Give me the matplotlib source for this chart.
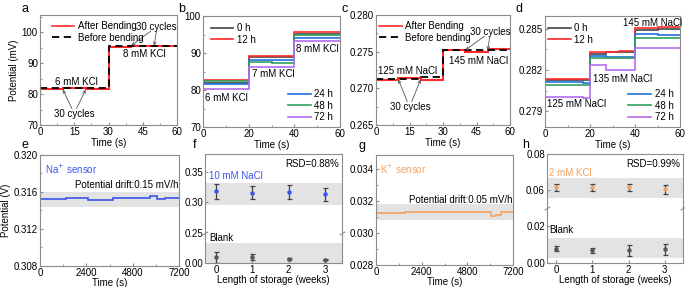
import numpy as np
import matplotlib
matplotlib.use('Agg')
import matplotlib.pyplot as plt
from matplotlib.ticker import AutoMinorLocator

plt.rcParams['font.family'] = ['Liberation Sans', 'DejaVu Sans']
plt.rcParams['font.size'] = 7
plt.rcParams['axes.linewidth'] = 0.8
plt.rcParams['axes.edgecolor'] = '#8c8c8c'
plt.rcParams['xtick.color'] = '#8c8c8c'
plt.rcParams['ytick.color'] = '#8c8c8c'
plt.rcParams['xtick.labelcolor'] = 'black'
plt.rcParams['ytick.labelcolor'] = 'black'
plt.rcParams['xtick.direction'] = 'in'
plt.rcParams['ytick.direction'] = 'in'
plt.rcParams['xtick.major.size'] = 2.5
plt.rcParams['ytick.major.size'] = 2.5
plt.rcParams['xtick.minor.size'] = 1.5
plt.rcParams['ytick.minor.size'] = 1.5
plt.rcParams['xtick.major.pad'] = 1.5
plt.rcParams['ytick.major.pad'] = 1.5

# ---- data ----
# a: KCl, bending test (mV)
a_edges = [0, 10, 20, 30, 40, 50, 60]
a_after = [81.6, 81.8, 81.5, 95.3, 95.6, 95.4]
a_before = [81.8, 81.8, 81.8, 95.6, 95.6, 95.6]

# b: KCl, storage hours (mV)
b_edges = [0, 10, 20, 30, 40, 50, 60]
b_0h = [82.0, 82.0, 88.8, 88.8, 95.2, 95.2]
b_12h = [82.6, 82.6, 89.2, 89.2, 95.6, 95.6]
b_24h = [81.7, 81.7, 88.1, 88.0, 94.1, 94.1]
b_48h = [82.3, 82.3, 87.5, 87.3, 94.9, 94.9]
b_72h = [80.2, 80.2, 86.3, 86.3, 93.2, 93.2]

# c: NaCl, bending test (V)
c_edges = [0, 10, 20, 30, 40, 50, 60]
c_after = [0.2712, 0.2714, 0.2711, 0.2752, 0.2750, 0.2753]
c_before = [0.2713, 0.2713, 0.2715, 0.2752, 0.2752, 0.2752]

# d: NaCl, storage hours (V)
d_edges = [0, 17, 20, 27, 33, 40, 50, 60]
d_0h = [0.28127, 0.28127, 0.28320, 0.28330, 0.28335, 0.28493, 0.28500]
d_12h = [0.28132, 0.28132, 0.28334, 0.28334, 0.28340, 0.28505, 0.28512]
d_24h = [0.28114, 0.28105, 0.28302, 0.28298, 0.28298, 0.28463, 0.28458]
d_48h = [0.28090, 0.28090, 0.28285, 0.28285, 0.28285, 0.28436, 0.28436]
d_72h = [0.28003, 0.27995, 0.28237, 0.28202, 0.28202, 0.28363, 0.28363]

# e: Na+ sensor drift (V)
e_edges = [0, 1370, 2500, 3760, 4960, 5680, 6050, 6450, 7200]
e_vals = [0.3152, 0.3153, 0.3151, 0.3153, 0.3154, 0.3156, 0.3152, 0.3154]
e_start = 0.308

# f: Na+ storage (V)
weeks = [0, 1, 2, 3]
f_nacl = [0.318, 0.316, 0.317, 0.313]
f_nacl_err = [0.012, 0.011, 0.012, 0.010]
f_blank = [0.010, 0.011, 0.007, 0.006]
f_blank_err = [0.009, 0.005, 0.002, 0.001]

# g: K+ sensor drift (V)
g_edges = [0, 1500, 6020, 6290, 6580, 7200]
g_vals = [0.03126, 0.03130, 0.03106, 0.03112, 0.03132]

# h: K+ storage (V)
h_kcl = [0.0615, 0.0615, 0.0615, 0.0605]
h_kcl_err = [0.0022, 0.0018, 0.0022, 0.0025]
h_blank = [0.0078, 0.0068, 0.0068, 0.0075]
h_blank_err = [0.0012, 0.0012, 0.0030, 0.0030]

RED = '#ff2a2a'
BLUE = '#1f6fe0'
GREEN = '#2ca25f'
PURPLE = '#b36cf0'
NA_BLUE = '#3a55f0'
K_ORG = '#f4a261'
BAND = '#e3e3e3'

W, H = 685.0, 287.0
fig = plt.figure(figsize=(W / 100, H / 100), dpi=100)


def add_ax(l, t, r, b):
    return fig.add_axes([l / W, 1 - b / H, (r - l) / W, (b - t) / H])


def style(ax, xminor=True, yminor=True):
    if xminor:
        ax.xaxis.set_minor_locator(AutoMinorLocator(2))
    if yminor:
        ax.yaxis.set_minor_locator(AutoMinorLocator(2))


def leg(ax, handles_labels, loc, anchor):
    h, l = handles_labels
    ax.legend(h, l, loc=loc, bbox_to_anchor=anchor, frameon=False,
              handlelength=2.3, handletextpad=0.4, labelspacing=0.15,
              borderaxespad=0, fontsize=7)


def arrow(ax, xy, xytext):
    ax.annotate('', xy=xy, xytext=xytext,
                arrowprops=dict(arrowstyle='->', color='#555555', lw=0.6,
                                shrinkA=0, shrinkB=0, mutation_scale=5))


# ---- a ----
ax = add_ax(40, 15, 177, 125)
ax.stairs(a_after, a_edges, baseline=None, color=RED, lw=1.5)
ax.stairs(a_before, a_edges, baseline=None, color='black', lw=1.3, ls=(0, (4, 2.5)))
ax.set_xlim(0, 60)
ax.set_ylim(70, 105.5)
ax.set_xticks([0, 15, 30, 45, 60])
ax.set_yticks([70, 80, 90, 100])
style(ax)
h1 = plt.Line2D([], [], color=RED, lw=1.2)
h2 = plt.Line2D([], [], color='black', lw=1.3, ls=(0, (4, 2.5)))
leg(ax, ([h1, h2], ['After Bending', 'Before bending']), 'upper left', (0.06, 0.98))
ax.text(16, 84, '6 mM KCl', ha='center', va='center')
ax.text(45.5, 93, '8 mM KCl', ha='center', va='center')
ax.text(15, 73.5, '30 cycles', ha='center', va='center')
arrow(ax, (10, 81.4), (14, 75.3))
arrow(ax, (20, 81.4), (16, 75.3))
ax.text(51, 101.7, '30 cycles', ha='center', va='center')
arrow(ax, (40, 95.6), (48.5, 100.3))
arrow(ax, (50, 95.6), (51, 100.3))
ax.set_ylabel('Potential (mV)', labelpad=2)
ax.set_xlabel('Time (s)', labelpad=1)
fig.text(22 / W, 1 - 9 / H, 'a', fontsize=9, va='center')

# ---- b ----
ax = add_ax(203, 16, 340, 127)
ax.stairs(b_0h, b_edges, baseline=None, color='#444444', lw=1.2)
ax.stairs(b_12h, b_edges, baseline=None, color=RED, lw=1.2)
ax.stairs(b_24h, b_edges, baseline=None, color=BLUE, lw=1.2)
ax.stairs(b_48h, b_edges, baseline=None, color=GREEN, lw=1.2)
ax.stairs(b_72h, b_edges, baseline=None, color=PURPLE, lw=1.2)
ax.set_xlim(0, 60)
ax.set_ylim(70, 100)
ax.set_xticks([0, 20, 40, 60])
ax.set_yticks([70, 80, 90, 100])
style(ax)
mk = lambda c: plt.Line2D([], [], color=c, lw=1.2)
leg(ax, ([mk('#444444'), mk(RED)], ['0 h', '12 h']), 'upper left', (0.03, 0.97))
ax2 = ax.twinx()
ax2.set_axis_off()
leg(ax2, ([mk(BLUE), mk(GREEN), mk(PURPLE)], ['24 h', '48 h', '72 h']), 'lower right', (0.98, 0.01))
ax.text(1, 77.9, '6 mM KCl', ha='left', va='center')
ax.text(21.3, 84.3, '7 mM KCl', ha='left', va='center')
ax.text(40.7, 91.0, '8 mM KCl', ha='left', va='center')
ax.set_xlabel('Time (s)', labelpad=1)
fig.text(178 / W, 1 - 9 / H, 'b', fontsize=9, va='center')

# ---- c ----
ax = add_ax(376, 15, 510, 125)
ax.stairs(c_after, c_edges, baseline=None, color=RED, lw=1.5)
ax.stairs(c_before, c_edges, baseline=None, color='black', lw=1.3, ls=(0, (4, 2.5)))
ax.set_xlim(0, 60)
ax.set_ylim(0.265, 0.280)
ax.set_xticks([0, 15, 30, 45, 60])
ax.set_yticks([0.265, 0.270, 0.275, 0.280])
ax.yaxis.set_major_formatter(plt.FormatStrFormatter('%.3f'))
style(ax)
leg(ax, ([h1, h2], ['After Bending', 'Before bending']), 'upper left', (-0.005, 0.98))
ax.text(14.3, 0.2724, '125 mM NaCl', ha='center', va='center')
ax.text(46, 0.2737, '145 mM NaCl', ha='center', va='center')
ax.text(15.3, 0.2675, '30 cycles', ha='center', va='center')
arrow(ax, (10, 0.2712), (14, 0.2682))
arrow(ax, (20, 0.2712), (16, 0.2682))
ax.text(51.2, 0.2777, '30 cycles', ha='center', va='center')
arrow(ax, (40, 0.2752), (48.5, 0.2771))
arrow(ax, (50, 0.2752), (51, 0.2771))
ax.set_xlabel('Time (s)', labelpad=1)
fig.text(342 / W, 1 - 9 / H, 'c', fontsize=9, va='center')

# ---- d ----
ax = add_ax(545, 16, 680, 127)
ax.stairs(d_0h, d_edges, baseline=None, color='#444444', lw=1.2)
ax.stairs(d_12h, d_edges, baseline=None, color=RED, lw=1.2)
ax.stairs(d_24h, d_edges, baseline=None, color=BLUE, lw=1.2)
ax.stairs(d_48h, d_edges, baseline=None, color=GREEN, lw=1.2)
ax.stairs(d_72h, d_edges, baseline=None, color=PURPLE, lw=1.2)
ax.set_xlim(0, 60)
ax.set_ylim(0.27783, 0.28595)
ax.set_xticks([0, 20, 40, 60])
ax.set_yticks([0.279, 0.282, 0.285])
ax.yaxis.set_major_formatter(plt.FormatStrFormatter('%.3f'))
style(ax)
leg(ax, ([mk('#444444'), mk(RED)], ['0 h', '12 h']), 'upper left', (-0.005, 0.97))
ax2 = ax.twinx()
ax2.set_axis_off()
leg(ax2, ([mk(BLUE), mk(GREEN), mk(PURPLE)], ['24 h', '48 h', '72 h']), 'lower right', (0.98, 0.01))
ax.text(34.7, 0.28542, '145 mM NaCl', ha='left', va='center')
ax.text(21.2, 0.28132, '135 mM NaCl', ha='left', va='center')
ax.text(0.8, 0.2795, '125 mM NaCl', ha='left', va='center')
ax.set_xlabel('Time (s)', labelpad=1)
fig.text(515 / W, 1 - 9 / H, 'd', fontsize=9, va='center')

# ---- e ----
ax = add_ax(40, 155, 179, 266)
ax.axhspan(0.3144, 0.3160, color=BAND, lw=0)
ax.plot([e_edges[0], e_edges[0]], [e_start, e_vals[0]], color=NA_BLUE, lw=1.2)
ax.stairs(e_vals, e_edges, baseline=None, color=NA_BLUE, lw=1.2)
ax.set_xlim(0, 7200)
ax.set_ylim(0.308, 0.320)
ax.set_xticks([0, 2400, 4800, 7200])
ax.set_yticks([0.308, 0.312, 0.316, 0.320])
ax.yaxis.set_major_formatter(plt.FormatStrFormatter('%.3f'))
style(ax)
ax.text(0.035, 0.93, 'Na$^{+}$ sensor', transform=ax.transAxes, color=NA_BLUE, va='top')
ax.text(0.995, 0.3168, 'Potential drift:0.15 mV/h', transform=ax.get_yaxis_transform(),
        ha='right', va='center')
ax.set_ylabel('Potential (V)', labelpad=2)
ax.set_xlabel('Time (s)', labelpad=0)
fig.text(22 / W, 1 - 145 / H, 'e', fontsize=9, va='center')


def broken(l, t, mid, r, b, lo_lim, hi_lim):
    hi = add_ax(l, t, r, mid)
    lo = add_ax(l, mid, r, b)
    hi.set_ylim(*hi_lim)
    lo.set_ylim(*lo_lim)
    hi.spines['bottom'].set_visible(False)
    lo.spines['top'].set_visible(False)
    hi.tick_params(axis='x', which='both', bottom=False, labelbottom=False)
    kw = dict(marker=[(-1, -0.6), (1, 0.6)], markersize=4, linestyle='none',
              color='#8c8c8c', mec='#8c8c8c', mew=0.8, clip_on=False)
    lo.plot([0, 1], [1, 1], transform=lo.transAxes, **kw)
    return hi, lo


def storage(hi, lo, top_y, top_err, top_col, bl_y, bl_err):
    hi.errorbar(weeks, top_y, yerr=top_err, fmt='o', ms=2.2, color=top_col,
                mec=top_col, ecolor='#444444', elinewidth=0.9, capsize=1.8, capthick=0.9)
    lo.errorbar(weeks, bl_y, yerr=bl_err, fmt='o', ms=2.2, color='#555555',
                mec='#555555', ecolor='#444444', elinewidth=0.9, capsize=1.8, capthick=0.9)
    for a_ in (hi, lo):
        a_.set_xlim(-0.3, 3.47)
    lo.set_xticks(weeks)


# ---- f ----
hi, lo = broken(205, 154, 233, 342, 263.3, (0, 0.05), (0.25, 0.379))
hi.axhspan(0.296, 0.332, color=BAND, lw=0)
lo.axhspan(0, 0.0328, color=BAND, lw=0)
storage(hi, lo, f_nacl, f_nacl_err, NA_BLUE, f_blank, f_blank_err)
hi.set_yticks([0.25, 0.30, 0.35])
lo.set_yticks([0.00])
hi.yaxis.set_major_formatter(plt.FormatStrFormatter('%.2f'))
lo.yaxis.set_major_formatter(plt.FormatStrFormatter('%.2f'))
hi.text(0.98, 0.94, 'RSD=0.88%', transform=hi.transAxes, ha='right', va='top')
hi.text(-0.2, 0.3426, '10 mM NaCl', color=NA_BLUE, ha='left', va='center')
lo.text(-0.18, 0.042, 'Blank', ha='left', va='center')
lo.set_xlabel('Length of storage (weeks)', labelpad=0)
fig.text(193 / W, 1 - 145 / H, 'f', fontsize=9, va='center')

# ---- g ----
ax = add_ax(376, 155, 513, 265)
ax.axhspan(0.0308, 0.0318, color=BAND, lw=0)
ax.stairs(g_vals, g_edges, baseline=None, color=K_ORG, lw=1.2)
ax.set_xlim(0, 7200)
ax.set_ylim(0.028, 0.0349)
ax.set_xticks([0, 2400, 4800, 7200])
ax.set_yticks([0.028, 0.030, 0.032, 0.034])
ax.yaxis.set_major_formatter(plt.FormatStrFormatter('%.3f'))
style(ax)
ax.text(0.03, 0.93, 'K$^{+}$ sensor', transform=ax.transAxes, color=K_ORG, va='top')
ax.text(0.995, 0.0321, 'Potential drift:0.05 mV/h', transform=ax.get_yaxis_transform(),
        ha='right', va='center')
ax.set_xlabel('Time (s)', labelpad=0)
fig.text(358 / W, 1 - 146 / H, 'g', fontsize=9, va='center')

# ---- h ----
hi, lo = broken(547, 154, 208.3, 683, 262.7, (0, 0.03), (0.05, 0.08))
hi.axhspan(0.0555, 0.0666, color=BAND, lw=0)
lo.axhspan(0.0025, 0.0135, color=BAND, lw=0)
storage(hi, lo, h_kcl, h_kcl_err, K_ORG, h_blank, h_blank_err)
hi.set_yticks([0.06, 0.08])
lo.set_yticks([0.00, 0.02])
hi.yaxis.set_major_formatter(plt.FormatStrFormatter('%.2f'))
lo.yaxis.set_major_formatter(plt.FormatStrFormatter('%.2f'))
hi.set_xlim(-0.25, 3.5)
lo.set_xlim(-0.25, 3.5)
hi.text(0.98, 0.9, 'RSD=0.99%', transform=hi.transAxes, ha='right', va='top')
hi.text(-0.2, 0.0697, '2 mM KCl', color=K_ORG, ha='left', va='center')
lo.text(-0.2, 0.018, 'Blank', ha='left', va='center')
lo.set_xlabel('Length of storage (weeks)', labelpad=0)
fig.text(522 / W, 1 - 145 / H, 'h', fontsize=9, va='center')

fig.savefig('out.png', dpi=100)
